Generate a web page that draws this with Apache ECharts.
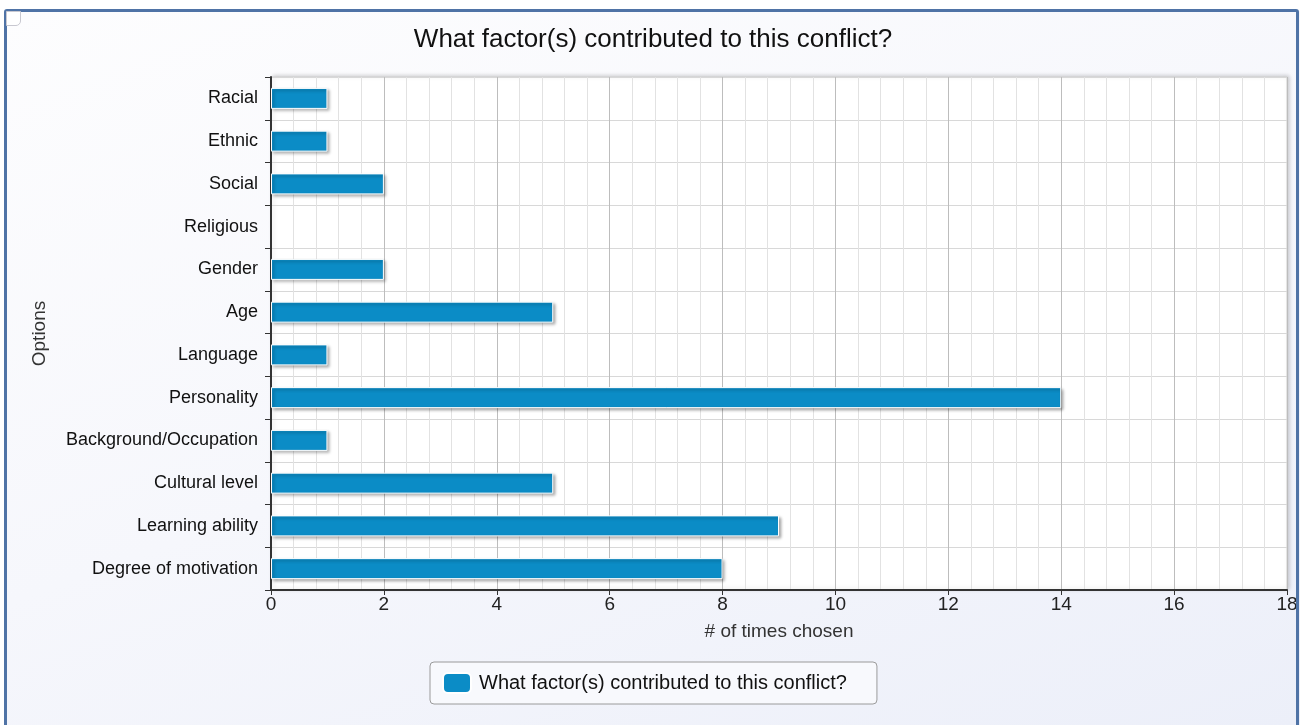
<!DOCTYPE html>
<html><head><meta charset="utf-8">
<script src="https://cdn.jsdelivr.net/npm/echarts@6/dist/echarts.min.js"></script>
<style>
html,body{margin:0;padding:0;width:1306px;height:725px;overflow:hidden;background:#fff;}
#bg{position:absolute;left:6px;top:11px;width:1294px;height:714px;background:linear-gradient(160deg,#fdfdfe 0%,#f6f7fc 50%,#eceff9 100%);}
#frame{position:absolute;left:4px;top:9px;width:1295px;height:730px;border:3px solid #4f73a6;box-sizing:border-box;border-radius:3px;pointer-events:none;}
#corner{position:absolute;left:6px;top:11px;width:13px;height:13px;background:#fff;border:1px solid #c8c8d0;border-radius:0 0 5px 0;}
#c{position:absolute;left:0;top:0;width:1306px;height:725px;}
</style></head>
<body>
<div id="bg"></div>
<div id="c"></div>
<div id="frame"></div>
<div id="corner"></div>
<script>
const titleText = "What factor(s) contributed to this conflict?";
const categories = ["Racial","Ethnic","Social","Religious","Gender","Age","Language","Personality","Background/Occupation","Cultural level","Learning ability","Degree of motivation"];
const values = [1,1,2,0,2,5,1,14,1,5,9,8];
const seriesName = "What factor(s) contributed to this conflict?";
const xAxisName = "# of times chosen";
const yAxisName = "Options";

const FONT = 'Liberation Sans, Arial, sans-serif';
const barData = values.map(v => v === 0
  ? {value: v, itemStyle: {borderWidth: 0, shadowBlur: 0, shadowOffsetX: 0, shadowOffsetY: 0, shadowColor: 'transparent'}}
  : v);

const chart = echarts.init(document.getElementById('c'), null, {renderer:'canvas'});
chart.setOption({
  backgroundColor: 'transparent',
  animation: false,
  textStyle: {fontFamily: FONT},
  title: {text: titleText, left: 'center', top: 27, padding: 0,
    textStyle: {fontSize: 26, fontWeight: 'normal', color: '#111', fontFamily: FONT}},
  grid: {left: 271, right: 19, top: 77, bottom: 135, show: true, backgroundColor: '#ffffff',
    borderColor: '#cfcfcf', borderWidth: 1,
    shadowColor: 'rgba(0,0,0,0.18)', shadowBlur: 4, shadowOffsetX: 2, shadowOffsetY: -1},
  legend: {top: 662, left: 430, data: [seriesName], itemWidth: 28, itemHeight: 20, itemGap: 10,
    borderColor: '#9a9a9a', borderWidth: 1, borderRadius: 4, padding: [10, 30, 10, 12],
    backgroundColor: '#f8f9fd',
    textStyle: {fontSize: 20, color: '#111', fontFamily: FONT, padding: [0, 0, 0, 3]}},
  xAxis: {type: 'value', min: 0, max: 18, interval: 2,
    name: xAxisName, nameLocation: 'middle', nameGap: 32,
    nameTextStyle: {fontSize: 19, color: '#333', fontFamily: FONT},
    axisLine: {show: true, lineStyle: {color: '#333', width: 2}},
    axisTick: {show: true, length: 5, lineStyle: {color: '#333'}},
    axisLabel: {fontSize: 19, color: '#222', margin: 5, fontFamily: FONT},
    splitLine: {show: true, lineStyle: {color: '#bdbdbd', width: 1}},
    minorTick: {show: false, splitNumber: 5},
    minorSplitLine: {show: true, lineStyle: {color: '#e2e2e2', width: 1}}},
  yAxis: {type: 'category', data: categories, inverse: true,
    name: yAxisName, nameLocation: 'middle', nameGap: 222, nameRotate: 90,
    nameTextStyle: {fontSize: 19, color: '#333', fontFamily: FONT},
    axisLine: {show: true, lineStyle: {color: '#333', width: 2}},
    axisTick: {show: true, length: 6, lineStyle: {color: '#333'}},
    axisLabel: {fontSize: 18, color: '#111', margin: 13, fontFamily: FONT},
    splitLine: {show: true, lineStyle: {color: '#d8d8d8'}}},
  series: [{type: 'bar', name: seriesName, data: barData, barWidth: 21,
    itemStyle: {color: '#0b8cc6', borderColor: '#ffffff', borderWidth: 1,
      shadowColor: 'rgba(0,0,0,0.35)', shadowBlur: 3, shadowOffsetX: 2, shadowOffsetY: 2}}]
});
</script>
</body></html>
